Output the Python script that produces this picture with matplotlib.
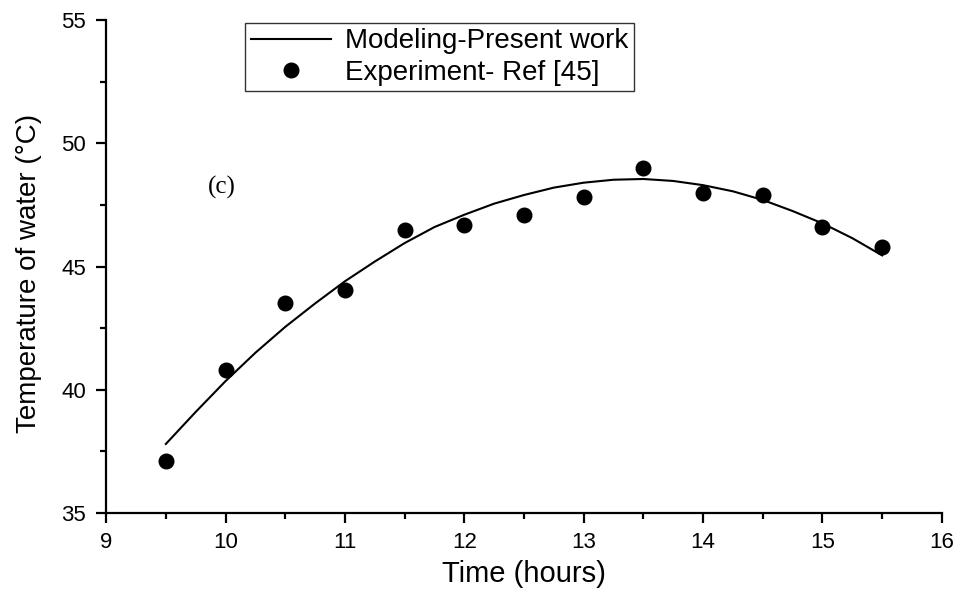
import numpy as np
import matplotlib.pyplot as plt
from matplotlib.ticker import MultipleLocator

# experimental points (Ref [45])
exp_time = [9.5, 10, 10.5, 11, 11.5, 12, 12.5, 13, 13.5, 14, 14.5, 15, 15.5]
exp_temp = [37.1, 40.8, 43.5, 44.05, 46.5, 46.7, 47.1, 47.8, 49.0, 48.0, 47.9, 46.6, 45.8]

# modeling curve (present work)
model_time = [9.5, 9.75, 10, 10.25, 10.5, 10.75, 11, 11.25, 11.5, 11.75, 12, 12.25, 12.5,
              12.75, 13, 13.25, 13.5, 13.75, 14, 14.25, 14.5, 14.75, 15, 15.25, 15.5]
model_temp = [37.8, 39.1, 40.35, 41.5, 42.55, 43.5, 44.4, 45.2, 45.95, 46.6, 47.1, 47.55, 47.9,
              48.2, 48.4, 48.52, 48.55, 48.47, 48.3, 48.05, 47.7, 47.25, 46.75, 46.15, 45.45]

plt.rcParams['font.family'] = ['Liberation Sans', 'DejaVu Sans']

fig = plt.figure(figsize=(9.65, 5.97), dpi=100)
ax = fig.add_axes([0.11, 0.1407, 0.866, 0.8258])

ax.plot(model_time, model_temp, color='black', lw=1.5, label='Modeling-Present work')
ax.plot(exp_time, exp_temp, 'o', color='black', ms=10.5, label='Experiment- Ref [45]')

ax.set_xlim(9, 16)
ax.set_ylim(35, 55)
ax.xaxis.set_major_locator(MultipleLocator(1))
ax.xaxis.set_minor_locator(MultipleLocator(0.5))
ax.yaxis.set_major_locator(MultipleLocator(5))
ax.yaxis.set_minor_locator(MultipleLocator(2.5))

for side in ['top', 'right']:
    ax.spines[side].set_visible(False)
for side in ['left', 'bottom']:
    ax.spines[side].set_linewidth(1.6)
ax.tick_params(which='major', direction='out', length=7.5, width=1.6, labelsize=16)
ax.tick_params(which='minor', direction='out', length=4, width=1.6)
ax.tick_params(axis='y', which='major', pad=7)
ax.tick_params(axis='x', which='major', pad=6)

ax.set_xlabel('Time (hours)', fontsize=21, labelpad=5)
ax.set_ylabel('Temperature of water (°C)', fontsize=20)
ax.yaxis.set_label_coords(-0.077, 0.485)

ax.text(9.97, 48.2, '(c)', family='Liberation Serif', fontsize=18, ha='center', va='center')

leg = ax.legend(loc='upper left', bbox_to_anchor=(0.254, 0.962), bbox_transform=fig.transFigure,
                fontsize=20, frameon=True, fancybox=False, handlelength=2.9,
                borderpad=0.2, labelspacing=0.2, handletextpad=0.5, borderaxespad=0)
leg.get_frame().set_edgecolor('black')
leg.get_frame().set_linewidth(1.0)

fig.savefig('out.png', dpi=100)
